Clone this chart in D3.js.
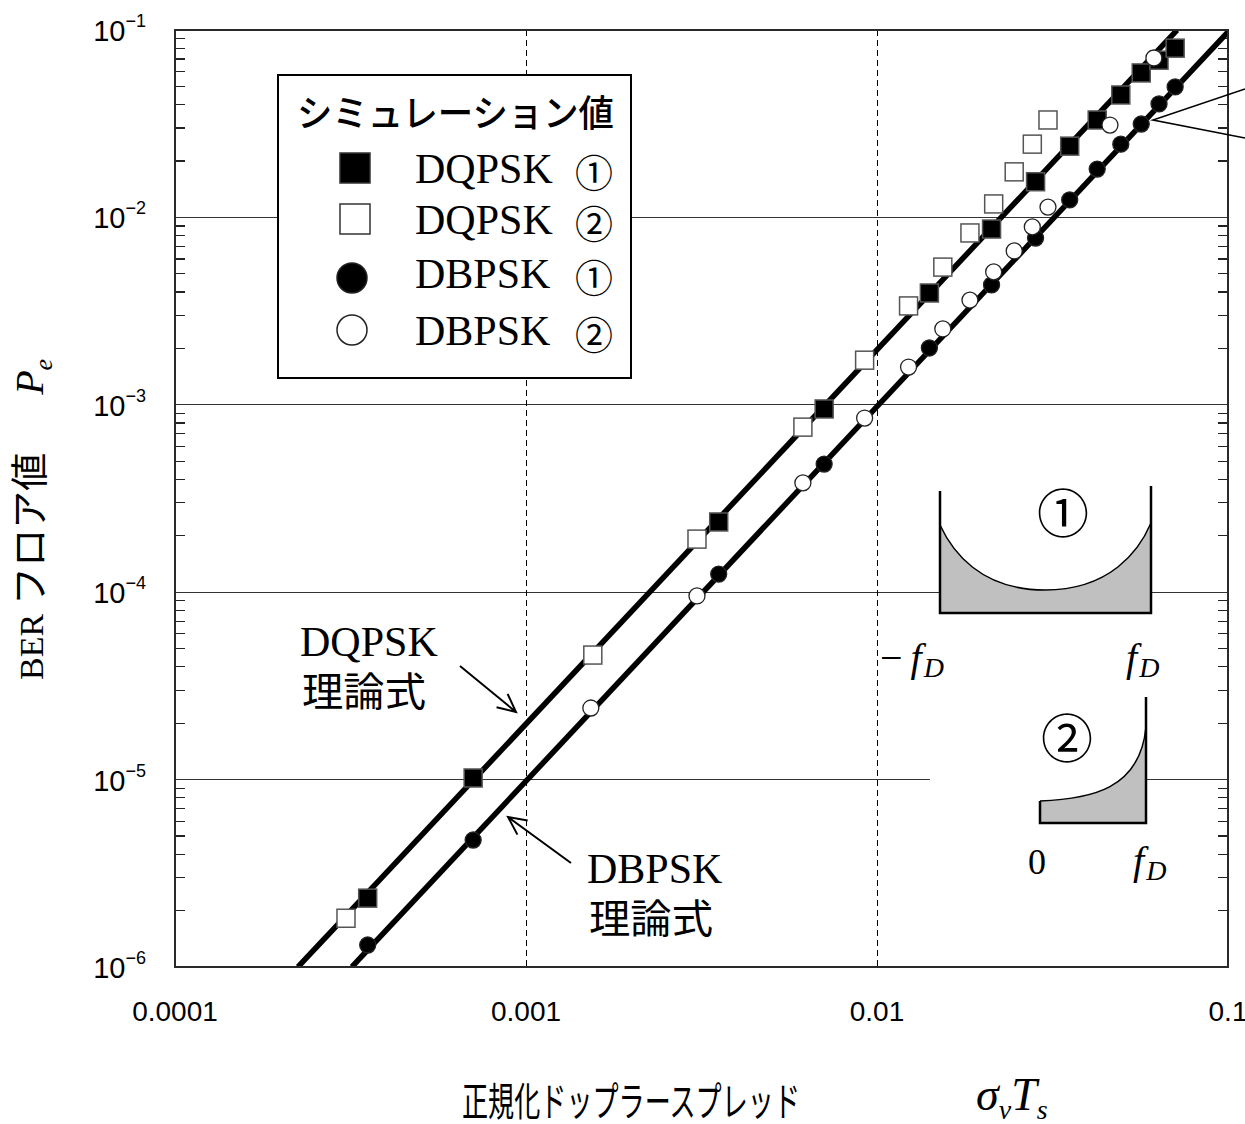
<!DOCTYPE html>
<html>
<head>
<meta charset="utf-8">
<script src="https://cdn.jsdelivr.net/npm/d3@7"></script>
<style>
  body { margin: 0; background: #fff; }
  svg { display: block; }
  .serif { font-family: "Liberation Serif", "Times New Roman", serif; }
  .sans { font-family: "Liberation Sans", Arial, sans-serif; }
  .jp { font-family: "Noto Sans CJK JP", sans-serif; }
</style>
</head>
<body>
<div id="chart"></div>
<script>
// axis ticks
const xTicks = [1e-4, 1e-3, 1e-2, 1e-1]
const xTickLabels = ["0.0001", "0.001", "0.01", "0.1"]
const yTicks = [1e-6, 1e-5, 1e-4, 1e-3, 1e-2, 1e-1]

// simulation, spectrum (1): normalized doppler spread
const sigmaT1 = [0.000354, 0.000707, 0.00354, 0.00707, 0.0141, 0.0212, 0.0283, 0.0354, 0.0424, 0.0495, 0.0566, 0.0636, 0.0707]
const dqpsk1 = [2.33e-6, 1.02e-5, 2.37e-4, 9.5e-4, 3.95e-3, 8.67e-3, 1.55e-2, 2.4e-2, 3.31e-2, 4.5e-2, 5.9e-2, 6.9e-2, 8.0e-2]
const dbpsk1 = [1.31e-6, 4.76e-6, 1.25e-4, 4.83e-4, 2.01e-3, 4.36e-3, 7.76e-3, 1.24e-2, 1.81e-2, 2.46e-2, 3.15e-2, 4.03e-2, 4.97e-2]

// simulation, spectrum (2)
const sigmaTq2 = [0.000307, 0.00155, 0.00307, 0.00615, 0.00922, 0.0123, 0.0154, 0.0184, 0.0215, 0.0246, 0.0277, 0.0307]
const dqpsk2 = [1.82e-6, 4.62e-5, 1.92e-4, 7.6e-4, 1.73e-3, 3.37e-3, 5.43e-3, 8.26e-3, 1.18e-2, 1.75e-2, 2.46e-2, 3.31e-2]
const sigmaTb2 = [0.00153, 0.00307, 0.00615, 0.00922, 0.0123, 0.0154, 0.0184, 0.0215, 0.0246, 0.0277, 0.0307, 0.0461, 0.0615]
const dbpsk2 = [2.41e-5, 9.55e-5, 3.83e-4, 8.5e-4, 1.59e-3, 2.54e-3, 3.62e-3, 5.12e-3, 6.62e-3, 8.9e-3, 1.135e-2, 3.11e-2, 7.09e-2]

// theory lines (straight in log-log)
const theoryDqpskX = [2.24e-4, 0.0716]
const theoryDqpskY = [1e-6, 1e-1]
const theoryDbpskX = [3.19e-4, 0.1]
const theoryDbpskY = [1e-6, 0.0976]

const WIDTH = 1245
const HEIGHT = 1124
const plot = { left: 175, right: 1228, top: 30, bottom: 967 }

const zip = (xs, ys) => xs.map((v, i) => [v, ys[i]])

const svg = d3
  .select("#chart")
  .append("svg")
  .attr("width", WIDTH)
  .attr("height", HEIGHT)
  .attr("viewBox", `0 0 ${WIDTH} ${HEIGHT}`)

const x = d3.scaleLog().domain([1e-4, 1e-1]).range([plot.left, plot.right])
const y = d3.scaleLog().domain([1e-6, 1e-1]).range([plot.bottom, plot.top])

svg
  .append("clipPath")
  .attr("id", "plotClip")
  .append("rect")
  .attr("x", plot.left)
  .attr("y", plot.top)
  .attr("width", plot.right - plot.left)
  .attr("height", plot.bottom - plot.top)

/*
 * ------------------------------------------------
 * Grid
 * ------------------------------------------------
 */
const grid = svg.append("g").attr("shape-rendering", "crispEdges")

grid
  .selectAll("line.h")
  .data(yTicks.slice(1, -1))
  .enter()
  .append("line")
  .attr("x1", plot.left)
  .attr("x2", plot.right)
  .attr("y1", (d) => y(d))
  .attr("y2", (d) => y(d))
  .attr("stroke", "#333")
  .attr("stroke-width", 1.2)

grid
  .selectAll("line.v")
  .data(xTicks.slice(1, -1))
  .enter()
  .append("line")
  .attr("x1", (d) => x(d))
  .attr("x2", (d) => x(d))
  .attr("y1", plot.top)
  .attr("y2", plot.bottom)
  .attr("stroke", "#000")
  .attr("stroke-width", 1)
  .attr("stroke-dasharray", "6,4")

// minor ticks on the left and right edges
const minor = y.ticks().filter((v) => Math.abs(Math.log10(v) - Math.round(Math.log10(v))) > 1e-6)

grid
  .selectAll("line.ml")
  .data(minor)
  .enter()
  .append("line")
  .attr("x1", plot.left)
  .attr("x2", plot.left + 10)
  .attr("y1", (d) => y(d))
  .attr("y2", (d) => y(d))
  .attr("stroke", "#222")
  .attr("stroke-width", 1.2)

grid
  .selectAll("line.mr")
  .data(minor)
  .enter()
  .append("line")
  .attr("x1", plot.right - 10)
  .attr("x2", plot.right)
  .attr("y1", (d) => y(d))
  .attr("y2", (d) => y(d))
  .attr("stroke", "#222")
  .attr("stroke-width", 1.2)

/*
 * ------------------------------------------------
 * Spectrum insets
 * ------------------------------------------------
 */
const insets = svg.append("g")

// white patch behind inset (2), it hides the 1e-5 grid line
insets
  .append("rect")
  .attr("x", 930)
  .attr("y", 690)
  .attr("width", 216)
  .attr("height", 140)
  .attr("fill", "#fff")

// inset (1): U-shaped classic spectrum
const in1 = insets.append("g").attr("transform", "translate(940,613)")
in1
  .append("path")
  .attr("d", "M0,0 L0,-88 C12,-62 40,-23 105,-23 C170,-23 199,-62 211,-90 L211,0 Z")
  .attr("fill", "#c0c0c0")
in1
  .append("path")
  .attr("d", "M0,-88 C12,-62 40,-23 105,-23 C170,-23 199,-62 211,-90")
  .attr("fill", "none")
  .attr("stroke", "#000")
  .attr("stroke-width", 1.5)
in1
  .append("path")
  .attr("d", "M0,-122 L0,0 L211,0 L211,-127")
  .attr("fill", "none")
  .attr("stroke", "#000")
  .attr("stroke-width", 2.5)

// inset (2): one-sided spectrum
const in2 = insets.append("g").attr("transform", "translate(1040,823)")
in2
  .append("path")
  .attr("d", "M0,0 L0,-22 C50,-24 100,-33 106,-96 L106,0 Z")
  .attr("fill", "#c0c0c0")
in2
  .append("path")
  .attr("d", "M0,-22 C50,-24 100,-33 106,-96")
  .attr("fill", "none")
  .attr("stroke", "#000")
  .attr("stroke-width", 1.5)
in2
  .append("path")
  .attr("d", "M0,-22 L0,0 L106,0 L106,-126")
  .attr("fill", "none")
  .attr("stroke", "#000")
  .attr("stroke-width", 2.5)

insets
  .append("text")
  .attr("class", "jp")
  .attr("x", 1063)
  .attr("y", 510)
  .attr("text-anchor", "middle")
  .attr("dominant-baseline", "central")
  .attr("font-size", 52)
  .text("①")
insets
  .append("text")
  .attr("class", "jp")
  .attr("x", 1067)
  .attr("y", 735)
  .attr("text-anchor", "middle")
  .attr("dominant-baseline", "central")
  .attr("font-size", 52)
  .text("②")

const fD = (px, py, minus) => {
  const t = insets.append("text").attr("class", "serif").attr("x", px).attr("y", py).attr("font-size", 40)
  if (minus) t.append("tspan").text("\u2212\u2009")
  t.append("tspan").attr("font-style", "italic").text("f")
  t.append("tspan").attr("font-style", "italic").attr("font-size", 28).attr("dy", 6).attr("dx", 2).text("D")
}
fD(880, 671, true)
fD(1126, 671, false)
fD(1133, 874, false)
insets
  .append("text")
  .attr("class", "serif")
  .attr("x", 1028)
  .attr("y", 874)
  .attr("font-size", 36)
  .text("0")

/*
 * ------------------------------------------------
 * Theory lines
 * ------------------------------------------------
 */
const line = d3
  .line()
  .x((d) => x(d[0]))
  .y((d) => y(d[1]))

const lines = svg.append("g").attr("clip-path", "url(#plotClip)")
lines
  .selectAll("path")
  .data([zip(theoryDqpskX, theoryDqpskY), zip(theoryDbpskX, theoryDbpskY)])
  .enter()
  .append("path")
  .attr("d", line)
  .attr("fill", "none")
  .attr("stroke", "#000")
  .attr("stroke-width", 5.5)

/*
 * ------------------------------------------------
 * Simulation markers
 * ------------------------------------------------
 */
const marks = svg.append("g")
const SQ = 18
const R = 8

const squares = (data, fill) =>
  marks
    .append("g")
    .selectAll("rect")
    .data(data)
    .enter()
    .append("rect")
    .attr("x", (d) => x(d[0]) - SQ / 2)
    .attr("y", (d) => y(d[1]) - SQ / 2)
    .attr("width", SQ)
    .attr("height", SQ)
    .attr("fill", fill)
    .attr("stroke", "#555")
    .attr("stroke-width", 1.5)

const circles = (data, fill) =>
  marks
    .append("g")
    .selectAll("circle")
    .data(data)
    .enter()
    .append("circle")
    .attr("cx", (d) => x(d[0]))
    .attr("cy", (d) => y(d[1]))
    .attr("r", R)
    .attr("fill", fill)
    .attr("stroke", "#222")
    .attr("stroke-width", 1.3)

squares(zip(sigmaTq2, dqpsk2), "#fff")
squares(zip(sigmaT1, dqpsk1), "#000")
circles(zip(sigmaT1, dbpsk1), "#000")
circles(zip(sigmaTb2, dbpsk2), "#fff")

/*
 * ------------------------------------------------
 * Frame
 * ------------------------------------------------
 */
svg
  .append("rect")
  .attr("x", plot.left)
  .attr("y", plot.top)
  .attr("width", plot.right - plot.left)
  .attr("height", plot.bottom - plot.top)
  .attr("fill", "none")
  .attr("stroke", "#2a2a2a")
  .attr("stroke-width", 2)

/*
 * ------------------------------------------------
 * Tick labels
 * ------------------------------------------------
 */
svg
  .append("g")
  .selectAll("text")
  .data(xTicks)
  .enter()
  .append("text")
  .attr("class", "sans")
  .attr("x", (d) => x(d))
  .attr("y", 1021)
  .attr("text-anchor", "middle")
  .attr("font-size", 28)
  .text((d, i) => xTickLabels[i])

const yLabels = svg
  .append("g")
  .selectAll("text")
  .data(yTicks)
  .enter()
  .append("text")
  .attr("class", "sans")
  .attr("x", 146)
  .attr("y", (d) => y(d) + 11)
  .attr("text-anchor", "end")
  .attr("font-size", 29)

yLabels.append("tspan").text("10")
yLabels
  .append("tspan")
  .attr("font-size", 18)
  .attr("dy", -14)
  .text((d) => "\u2212" + Math.abs(Math.round(Math.log10(d))))

/*
 * ------------------------------------------------
 * Axis titles
 * ------------------------------------------------
 */
svg
  .append("text")
  .attr("class", "jp")
  .attr("x", 462)
  .attr("y", 1116)
  .attr("font-size", 40)
  .attr("textLength", 338)
  .attr("lengthAdjust", "spacingAndGlyphs")
  .text("正規化ドップラースプレッド")

const xt = svg.append("text").attr("class", "serif").attr("x", 976).attr("y", 1110).attr("font-size", 46).attr("font-style", "italic")
xt.append("tspan").text("σ")
xt.append("tspan").attr("font-size", 28).attr("dy", 9).text("v")
xt.append("tspan").attr("dy", -9).text("T")
xt.append("tspan").attr("font-size", 28).attr("dy", 9).text("s")

// rotated y title, laid out from the bottom (screen y = 680) upward
const yt = svg
  .append("text")
  .attr("transform", "translate(43,680) rotate(-90)")
  .attr("text-anchor", "start")
yt.append("tspan").attr("class", "serif").attr("font-size", 34).text("BER")
yt.append("tspan").attr("class", "jp").attr("font-size", 38).attr("dx", 9).text("フロア値")
yt.append("tspan").attr("class", "serif").attr("font-style", "italic").attr("font-size", 40).attr("dx", 58).text("P")
yt.append("tspan").attr("class", "serif").attr("font-style", "italic").attr("font-size", 26).attr("dy", 9).text("e")

/*
 * ------------------------------------------------
 * Legend
 * ------------------------------------------------
 */
const legendRows = [
  { shape: "square", fill: "#000", label: "DQPSK", num: "①" },
  { shape: "square", fill: "#fff", label: "DQPSK", num: "②" },
  { shape: "circle", fill: "#000", label: "DBPSK", num: "①" },
  { shape: "circle", fill: "#fff", label: "DBPSK", num: "②" },
]
const legendMarkY = [168, 219, 278, 330]
const legendTextY = [183, 234, 288, 345]

const legend = svg.append("g")
legend
  .append("rect")
  .attr("x", 278)
  .attr("y", 75)
  .attr("width", 353)
  .attr("height", 303)
  .attr("fill", "#fff")
  .attr("stroke", "#000")
  .attr("stroke-width", 2)

legend
  .append("text")
  .attr("class", "jp")
  .attr("x", 297)
  .attr("y", 127)
  .attr("font-size", 37)
  .attr("font-weight", 500)
  .attr("textLength", 317)
  .attr("lengthAdjust", "spacingAndGlyphs")
  .text("シミュレーション値")

legendRows.forEach((row, i) => {
  if (row.shape === "square") {
    legend
      .append("rect")
      .attr("x", 355 - 15)
      .attr("y", legendMarkY[i] - 15)
      .attr("width", 30)
      .attr("height", 30)
      .attr("fill", row.fill)
      .attr("stroke", "#333")
      .attr("stroke-width", 1.5)
  } else {
    legend
      .append("circle")
      .attr("cx", 352)
      .attr("cy", legendMarkY[i])
      .attr("r", 15)
      .attr("fill", row.fill)
      .attr("stroke", "#222")
      .attr("stroke-width", 1.5)
  }
  legend
    .append("text")
    .attr("class", "serif")
    .attr("x", 415)
    .attr("y", legendTextY[i])
    .attr("font-size", 42)
    .text(row.label)
  legend
    .append("text")
    .attr("class", "jp")
    .attr("x", 594)
    .attr("y", legendTextY[i] - 13)
    .attr("text-anchor", "middle")
    .attr("dominant-baseline", "central")
    .attr("font-size", 38)
    .text(row.num)
})

/*
 * ------------------------------------------------
 * Annotations
 * ------------------------------------------------
 */
const notes = svg.append("g")
const noteLabel = (px, py, top) => {
  notes.append("text").attr("class", "serif").attr("x", px).attr("y", py).attr("font-size", 42).text(top)
  notes
    .append("text")
    .attr("class", "jp")
    .attr("x", px + 2)
    .attr("y", py + 50)
    .attr("font-size", 40)
    .attr("textLength", 124)
    .attr("lengthAdjust", "spacingAndGlyphs")
    .text("理論式")
}
noteLabel(300, 656, "DQPSK")
noteLabel(587, 883, "DBPSK")

const arrow = (x1, y1, x2, y2) => {
  const a = Math.atan2(y2 - y1, x2 - x1)
  const L = 20
  const s = 0.45
  notes
    .append("path")
    .attr(
      "d",
      `M${x1},${y1} L${x2},${y2} M${x2 - L * Math.cos(a - s)},${y2 - L * Math.sin(a - s)} L${x2},${y2} L${x2 - L * Math.cos(a + s)},${y2 - L * Math.sin(a + s)}`
    )
    .attr("fill", "none")
    .attr("stroke", "#000")
    .attr("stroke-width", 2)
}
arrow(460, 666, 516, 712)
arrow(571, 863, 508, 817)

notes
  .append("path")
  .attr("d", "M1245,89 L1153,120 L1245,138")
  .attr("fill", "none")
  .attr("stroke", "#000")
  .attr("stroke-width", 1.6)
</script>
</body>
</html>
